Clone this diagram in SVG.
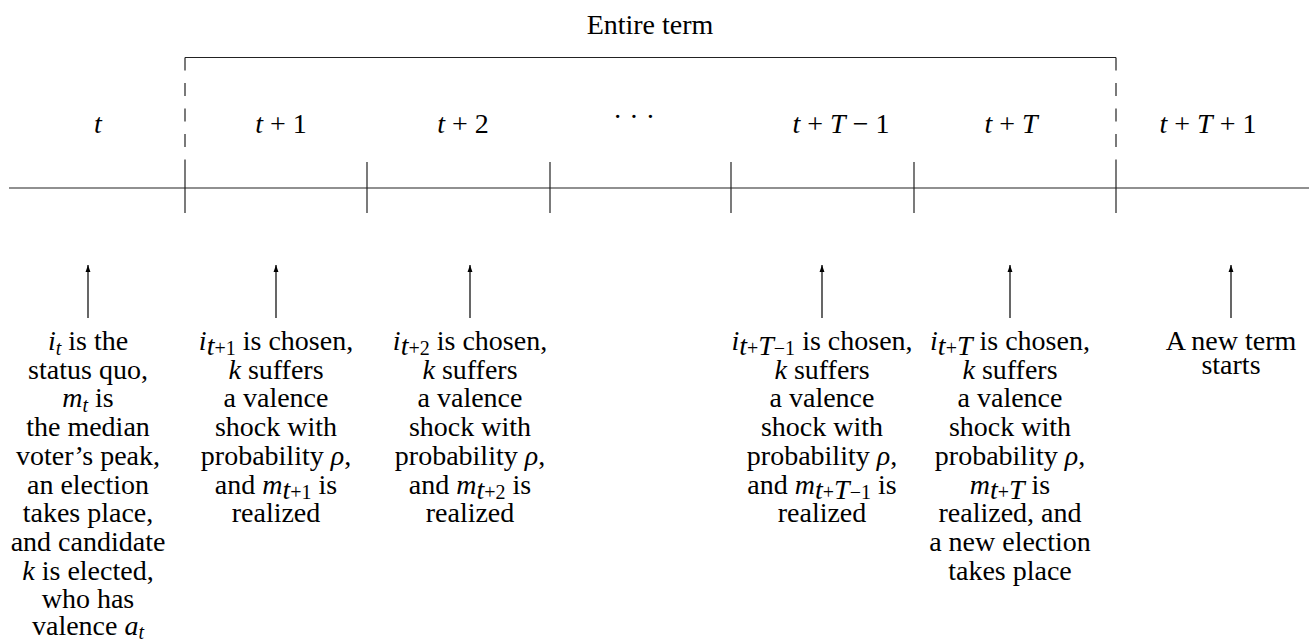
<svg xmlns="http://www.w3.org/2000/svg" width="1314" height="643" viewBox="0 0 1314 643">
<defs>
<marker id="ah" viewBox="0 0 10 10" refX="10" refY="5" markerWidth="7" markerHeight="7" markerUnits="userSpaceOnUse" orient="auto">
<path d="M0,1.5 L10,5 L0,8.5 Z" fill="#000"/>
</marker>
<style>
svg text, svg g text, svg g text tspan, #connectors ~ g text {font-family:"Liberation Serif", serif !important;font-size:28px;fill:#000;text-anchor:middle}
svg g text tspan.m{font-style:italic}
svg g text tspan.s{font-size:20px !important}
</style>
</defs>
<rect width="1314" height="643" fill="#fff"/>
<g id="connectors" stroke="#222" stroke-width="1.2" fill="none">
<line x1="9" y1="188" x2="1309" y2="188"/>
<line x1="185" y1="57.5" x2="1116" y2="57.5"/>
<line x1="185" y1="57.5" x2="185" y2="162" stroke-dasharray="13 12.5"/>
<line x1="1116" y1="57.5" x2="1116" y2="162" stroke-dasharray="13 12.5"/>
<line x1="185" y1="162" x2="185" y2="213"/>
<line x1="367" y1="162" x2="367" y2="213"/>
<line x1="550" y1="162" x2="550" y2="213"/>
<line x1="731" y1="162" x2="731" y2="213"/>
<line x1="914" y1="162" x2="914" y2="213"/>
<line x1="1116" y1="162" x2="1116" y2="213"/>
<line x1="88" y1="318" x2="88" y2="265" stroke="#000" marker-end="url(#ah)"/>
<line x1="276" y1="318" x2="276" y2="265" stroke="#000" marker-end="url(#ah)"/>
<line x1="470" y1="318" x2="470" y2="265" stroke="#000" marker-end="url(#ah)"/>
<line x1="822" y1="318" x2="822" y2="265" stroke="#000" marker-end="url(#ah)"/>
<line x1="1010" y1="318" x2="1010" y2="265" stroke="#000" marker-end="url(#ah)"/>
<line x1="1231" y1="318" x2="1231" y2="265" stroke="#000" marker-end="url(#ah)"/>
</g>
<g id="entire-term"><text style="font-family:'Liberation Serif',serif" x="650" y="34">Entire term</text></g>
<g id="label-t"><text style="font-family:'Liberation Serif',serif;font-style:italic" x="98" y="133">t</text></g>
<g id="label-t1"><text style="font-family:'Liberation Serif',serif" x="281" y="133"><tspan class="m">t</tspan> + 1</text></g>
<g id="label-t2"><text style="font-family:'Liberation Serif',serif" x="463" y="133"><tspan class="m">t</tspan> + 2</text></g>
<g id="label-dots"><text style="font-family:'Liberation Serif',serif" x="634" y="126">&#183; &#183; &#183;</text></g>
<g id="label-tT1"><text style="font-family:'Liberation Serif',serif" x="841" y="133"><tspan class="m">t</tspan> + <tspan class="m">T</tspan> &#8722; 1</text></g>
<g id="label-tT"><text style="font-family:'Liberation Serif',serif" x="1011" y="133"><tspan class="m">t</tspan> + <tspan class="m">T</tspan></text></g>
<g id="label-tTp1"><text style="font-family:'Liberation Serif',serif" x="1208" y="133"><tspan class="m">t</tspan> + <tspan class="m">T</tspan> + 1</text></g>

<g id="desc-t">
<text style="font-family:'Liberation Serif',serif" x="88" y="350"><tspan class="m">i</tspan><tspan class="s m" dy="5">t</tspan><tspan dy="-5"> is the</tspan></text>
<text style="font-family:'Liberation Serif',serif" x="88" y="378.7">status quo,</text>
<text style="font-family:'Liberation Serif',serif" x="88" y="407.4"><tspan class="m">m</tspan><tspan class="s m" dy="5">t</tspan><tspan dy="-5"> is</tspan></text>
<text style="font-family:'Liberation Serif',serif" x="88" y="436.1">the median</text>
<text style="font-family:'Liberation Serif',serif" x="88" y="464.8">voter&#8217;s peak,</text>
<text style="font-family:'Liberation Serif',serif" x="88" y="493.5">an election</text>
<text style="font-family:'Liberation Serif',serif" x="88" y="522.2">takes place,</text>
<text style="font-family:'Liberation Serif',serif" x="88" y="550.9">and candidate</text>
<text style="font-family:'Liberation Serif',serif" x="88" y="579.6"><tspan class="m">k</tspan> is elected,</text>
<text style="font-family:'Liberation Serif',serif" x="88" y="608.3">who has</text>
<text style="font-family:'Liberation Serif',serif" x="88" y="635">valence <tspan class="m">a</tspan><tspan class="s m" dy="4">t</tspan></text>
</g>

<g id="desc-t1">
<text style="font-family:'Liberation Serif',serif" x="276" y="350"><tspan class="m">i</tspan><tspan class="s" dy="5"><tspan class="m">t</tspan>+1</tspan><tspan dy="-5"> is chosen,</tspan></text>
<text style="font-family:'Liberation Serif',serif" x="276" y="378.7"><tspan class="m">k</tspan> suffers</text>
<text style="font-family:'Liberation Serif',serif" x="276" y="407.4">a valence</text>
<text style="font-family:'Liberation Serif',serif" x="276" y="436.1">shock with</text>
<text style="font-family:'Liberation Serif',serif" x="276" y="464.8">probability <tspan class="m">&#961;</tspan>,</text>
<text style="font-family:'Liberation Serif',serif" x="276" y="493.5">and <tspan class="m">m</tspan><tspan class="s" dy="5"><tspan class="m">t</tspan>+1</tspan><tspan dy="-5"> is</tspan></text>
<text style="font-family:'Liberation Serif',serif" x="276" y="522.2">realized</text>
</g>

<g id="desc-t2">
<text style="font-family:'Liberation Serif',serif" x="470" y="350"><tspan class="m">i</tspan><tspan class="s" dy="5"><tspan class="m">t</tspan>+2</tspan><tspan dy="-5"> is chosen,</tspan></text>
<text style="font-family:'Liberation Serif',serif" x="470" y="378.7"><tspan class="m">k</tspan> suffers</text>
<text style="font-family:'Liberation Serif',serif" x="470" y="407.4">a valence</text>
<text style="font-family:'Liberation Serif',serif" x="470" y="436.1">shock with</text>
<text style="font-family:'Liberation Serif',serif" x="470" y="464.8">probability <tspan class="m">&#961;</tspan>,</text>
<text style="font-family:'Liberation Serif',serif" x="470" y="493.5">and <tspan class="m">m</tspan><tspan class="s" dy="5"><tspan class="m">t</tspan>+2</tspan><tspan dy="-5"> is</tspan></text>
<text style="font-family:'Liberation Serif',serif" x="470" y="522.2">realized</text>
</g>

<g id="desc-tT1">
<text style="font-family:'Liberation Serif',serif" x="822" y="350"><tspan class="m">i</tspan><tspan class="s" dy="5"><tspan class="m">t</tspan>+<tspan class="m">T</tspan>&#8722;1</tspan><tspan dy="-5"> is chosen,</tspan></text>
<text style="font-family:'Liberation Serif',serif" x="822" y="378.7"><tspan class="m">k</tspan> suffers</text>
<text style="font-family:'Liberation Serif',serif" x="822" y="407.4">a valence</text>
<text style="font-family:'Liberation Serif',serif" x="822" y="436.1">shock with</text>
<text style="font-family:'Liberation Serif',serif" x="822" y="464.8">probability <tspan class="m">&#961;</tspan>,</text>
<text style="font-family:'Liberation Serif',serif" x="822" y="493.5">and <tspan class="m">m</tspan><tspan class="s" dy="5"><tspan class="m">t</tspan>+<tspan class="m">T</tspan>&#8722;1</tspan><tspan dy="-5"> is</tspan></text>
<text style="font-family:'Liberation Serif',serif" x="822" y="522.2">realized</text>
</g>

<g id="desc-tT">
<text style="font-family:'Liberation Serif',serif" x="1010" y="350"><tspan class="m">i</tspan><tspan class="s" dy="5"><tspan class="m">t</tspan>+<tspan class="m">T</tspan></tspan><tspan dy="-5"> is chosen,</tspan></text>
<text style="font-family:'Liberation Serif',serif" x="1010" y="378.7"><tspan class="m">k</tspan> suffers</text>
<text style="font-family:'Liberation Serif',serif" x="1010" y="407.4">a valence</text>
<text style="font-family:'Liberation Serif',serif" x="1010" y="436.1">shock with</text>
<text style="font-family:'Liberation Serif',serif" x="1010" y="464.8">probability <tspan class="m">&#961;</tspan>,</text>
<text style="font-family:'Liberation Serif',serif" x="1010" y="493.5"><tspan class="m">m</tspan><tspan class="s" dy="5"><tspan class="m">t</tspan>+<tspan class="m">T</tspan></tspan><tspan dy="-5"> is</tspan></text>
<text style="font-family:'Liberation Serif',serif" x="1010" y="522.2">realized, and</text>
<text style="font-family:'Liberation Serif',serif" x="1010" y="550.9">a new election</text>
<text style="font-family:'Liberation Serif',serif" x="1010" y="579.6">takes place</text>
</g>

<g id="desc-tTp1">
<text style="font-family:'Liberation Serif',serif" x="1231" y="350">A new term</text>
<text style="font-family:'Liberation Serif',serif" x="1231" y="374">starts</text>
</g>
</svg>
